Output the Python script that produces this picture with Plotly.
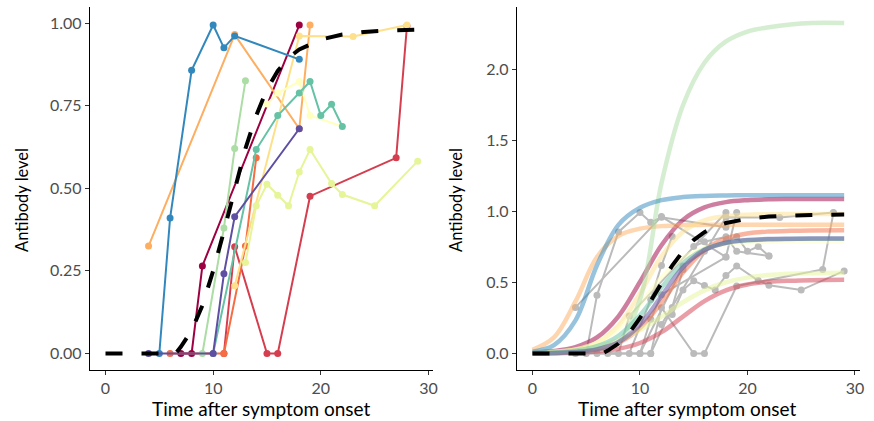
import plotly.graph_objects as go

# ---------------- data ----------------
ind_colors = ["#9E0142", "#D53E4F", "#F46D43", "#FDAE61", "#FEE08B", "#FFFFBF",
              "#E6F598", "#ABDDA4", "#66C2A5", "#3288BD", "#5E4FA2"]

ind_times = [
    [7, 8, 9, 18],
    [11, 12, 15, 16, 19, 27, 28],
    [6, 11, 13, 14],
    [4, 12, 18, 19],
    [12, 18, 23, 28],
    [15, 16, 18, 19, 22],
    [13, 14, 15, 16, 17, 18, 19, 21, 22, 25, 29],
    [9, 11, 12, 13],
    [10, 14, 16, 18, 19, 20, 21, 22],
    [5, 6, 8, 10, 11, 12, 18],
    [4, 10, 11, 12, 18],
]
ind_values = [
    [0, 0, 0.265, 0.994],
    [0, 0.323, 0, 0, 0.476, 0.592, 0.991],
    [0, 0, 0.325, 0.592],
    [0.325, 0.965, 0.68, 0.994],
    [0.205, 0.961, 0.959, 0.994],
    [0.755, 0.788, 0.823, 0.720, 0.687],
    [0.275, 0.447, 0.512, 0.479, 0.447, 0.549, 0.617, 0.514, 0.481, 0.447, 0.582],
    [0, 0.38, 0.62, 0.825],
    [0, 0.617, 0.72, 0.788, 0.823, 0.72, 0.754, 0.687],
    [0, 0.41, 0.857, 0.994, 0.925, 0.961, 0.89],
    [0, 0, 0.241, 0.414, 0.68],
]

# fitted curves (right panel), read at these times
curve_times = [0, 2, 4, 6, 8, 10, 12, 14, 16, 18, 20, 22, 24, 26, 29]
curve_values = [
    [0.006, 0.017, 0.045, 0.113, 0.262, 0.504, 0.763, 0.942, 1.030, 1.067, 1.081, 1.087, 1.089, 1.090, 1.090],
    [0.001, 0.002, 0.006, 0.014, 0.033, 0.074, 0.150, 0.260, 0.369, 0.445, 0.486, 0.505, 0.513, 0.517, 0.519],
    [0.002, 0.004, 0.011, 0.029, 0.075, 0.179, 0.359, 0.570, 0.728, 0.811, 0.846, 0.860, 0.865, 0.867, 0.868],
    [0.026, 0.113, 0.367, 0.680, 0.830, 0.880, 0.898, 0.905, 0.907, 0.908, 0.908, 0.908, 0.908, 0.908, 0.908],
    [0.003, 0.009, 0.027, 0.076, 0.198, 0.423, 0.685, 0.859, 0.939, 0.968, 0.979, 0.982, 0.983, 0.984, 0.984],
    [0.004, 0.011, 0.029, 0.075, 0.176, 0.346, 0.536, 0.673, 0.742, 0.772, 0.783, 0.788, 0.789, 0.790, 0.790],
    [0.006, 0.013, 0.026, 0.050, 0.094, 0.165, 0.260, 0.361, 0.445, 0.502, 0.535, 0.553, 0.562, 0.566, 0.569],
    [0.000, 0.002, 0.010, 0.030, 0.080, 0.380, 1.200, 1.750, 2.050, 2.200, 2.270, 2.300, 2.320, 2.330, 2.330],
    [0.003, 0.007, 0.019, 0.051, 0.125, 0.269, 0.465, 0.636, 0.735, 0.780, 0.798, 0.805, 0.808, 0.809, 0.809],
    [0.013, 0.059, 0.233, 0.622, 0.907, 1.027, 1.081, 1.103, 1.111, 1.114, 1.116, 1.116, 1.116, 1.116, 1.116],
    [0.001, 0.003, 0.010, 0.029, 0.081, 0.202, 0.405, 0.608, 0.729, 0.781, 0.800, 0.807, 0.809, 0.810, 0.810],
]

mean_times = [0, 6.5, 7, 8, 9, 10, 11, 12, 13, 14, 15, 16, 17, 18, 20, 22, 24, 26, 29]
mean_values = [0, 0, 0.02, 0.07, 0.145, 0.25, 0.37, 0.50, 0.62, 0.72, 0.80, 0.855, 0.895,
               0.92, 0.95, 0.965, 0.973, 0.977, 0.98]

x_ticks = [0, 10, 20, 30]
left_y_ticks = [0, 0.25, 0.5, 0.75, 1.0]
left_y_labels = ["0.00", "0.25", "0.50", "0.75", "1.00"]
right_y_ticks = [0, 0.5, 1.0, 1.5, 2.0]
right_y_labels = ["0.0", "0.5", "1.0", "1.5", "2.0"]

# ---------------- figure ----------------
FONT = "Lato"
fig = go.Figure()

# left panel: coloured trajectories
for col, ts, vs in zip(ind_colors, ind_times, ind_values):
    fig.add_trace(go.Scatter(x=ts, y=vs, mode="lines+markers",
                             line=dict(color=col, width=2),
                             marker=dict(color=col, size=7),
                             xaxis="x", yaxis="y", showlegend=False, hoverinfo="skip"))
fig.add_trace(go.Scatter(x=mean_times, y=mean_values, mode="lines",
                         line=dict(color="black", width=4, dash="17px,19px"),
                         xaxis="x", yaxis="y", showlegend=False, hoverinfo="skip"))

# right panel: grey trajectories
for ts, vs in zip(ind_times, ind_values):
    fig.add_trace(go.Scatter(x=ts, y=vs, mode="lines+markers",
                             line=dict(color="#BBBBBB", width=2),
                             marker=dict(color="#BBBBBB", size=7),
                             xaxis="x2", yaxis="y2", showlegend=False, hoverinfo="skip"))
# right panel: fitted curves
for col, vs in zip(ind_colors, curve_values):
    fig.add_trace(go.Scatter(x=curve_times, y=vs, mode="lines",
                             line=dict(color=col, width=4.5, shape="spline"),
                             opacity=0.5,
                             xaxis="x2", yaxis="y2", showlegend=False, hoverinfo="skip"))
fig.add_trace(go.Scatter(x=mean_times, y=mean_values, mode="lines",
                         line=dict(color="black", width=4, dash="17px,19px"),
                         xaxis="x2", yaxis="y2", showlegend=False, hoverinfo="skip"))

axis_common = dict(showgrid=False, zeroline=False, showline=True, linecolor="black",
                   linewidth=1.2, ticks="outside", ticklen=4, tickcolor="#333333",
                   tickwidth=1.1,
                   tickfont=dict(family=FONT, size=16, color="#4D4D4D"))

fig.update_layout(
    width=874, height=421,
    margin=dict(l=0, r=0, t=0, b=0),
    paper_bgcolor="white", plot_bgcolor="white",
    xaxis=dict(domain=[90.3/874, 435.3/874], range=[-1.45, 30.45], tickvals=x_ticks,
               anchor="y", **axis_common),
    yaxis=dict(domain=[51/421, 414.5/421], range=[-0.05, 1.05], tickvals=left_y_ticks,
               ticktext=left_y_labels, anchor="x", **axis_common),
    xaxis2=dict(domain=[519.3/874, 863.7/874], range=[-1.45, 30.45], tickvals=x_ticks,
                anchor="y2", **axis_common),
    yaxis2=dict(domain=[51/421, 414.5/421], range=[-0.1165, 2.4465], tickvals=right_y_ticks,
                ticktext=right_y_labels, anchor="x2", **axis_common),
    annotations=[
        dict(text="Time after symptom onset", x=263/874, y=1-408/421, xref="paper", yref="paper",
             showarrow=False, xanchor="center", yanchor="middle",
             font=dict(family=FONT, size=19, color="black")),
        dict(text="Time after symptom onset", x=691/874, y=1-408/421, xref="paper", yref="paper",
             showarrow=False, xanchor="center", yanchor="middle",
             font=dict(family=FONT, size=19, color="black")),
        dict(text="Antibody level", x=22/874, y=1-200/421, xref="paper", yref="paper",
             showarrow=False, xanchor="center", yanchor="middle", textangle=-90,
             font=dict(family=FONT, size=16.5, color="black")),
        dict(text="Antibody level", x=458/874, y=1-200/421, xref="paper", yref="paper",
             showarrow=False, xanchor="center", yanchor="middle", textangle=-90,
             font=dict(family=FONT, size=16.5, color="black")),
    ],
)

fig.write_html("out.html", config={"displayModeBar": False},
               post_script="document.body.style.margin='0';")
